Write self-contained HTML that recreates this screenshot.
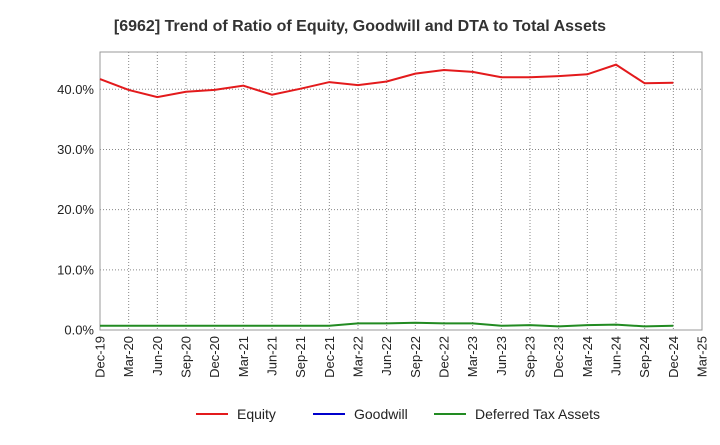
<!DOCTYPE html>
<html><head><meta charset="utf-8"><style>
body{margin:0;background:#fff;font-family:"Liberation Sans",Arial,sans-serif;}
</style></head><body>
<svg id="chart" width="720" height="440" xmlns="http://www.w3.org/2000/svg">
<text x="360" y="31" text-anchor="middle" font-size="16" font-weight="bold" fill="#333">[6962]  Trend of Ratio of Equity, Goodwill and DTA to Total Assets</text>
<g id="grid"></g><g id="axes"></g><g id="series"></g>
<g>
<line x1="196" y1="414" x2="228" y2="414" stroke="#e31a1c" stroke-width="2"/>
<text x="237" y="419" font-size="14" fill="#222">Equity</text>
<line x1="313" y1="414" x2="345" y2="414" stroke="#0000cc" stroke-width="2"/>
<text x="354" y="419" font-size="14" fill="#222">Goodwill</text>
<line x1="434" y1="414" x2="466" y2="414" stroke="#228b22" stroke-width="2"/>
<text x="475" y="419" font-size="14" fill="#222">Deferred Tax Assets</text>
</g>
</svg>
<script>
const categories=["Dec-19","Mar-20","Jun-20","Sep-20","Dec-20","Mar-21","Jun-21","Sep-21","Dec-21","Mar-22","Jun-22","Sep-22","Dec-22","Mar-23","Jun-23","Sep-23","Dec-23","Mar-24","Jun-24","Sep-24","Dec-24","Mar-25"];
const equity=[41.7,39.9,38.7,39.6,39.9,40.6,39.1,40.1,41.2,40.7,41.3,42.6,43.2,42.9,42.0,42.0,42.2,42.5,44.1,41.0,41.1];
const dta=[0.7,0.7,0.7,0.7,0.7,0.7,0.7,0.7,0.7,1.1,1.1,1.2,1.1,1.1,0.7,0.8,0.6,0.8,0.9,0.6,0.7];
const yTicks=[0,10,20,30,40];
const NS="http://www.w3.org/2000/svg";
const L=100,R=702,T=52,B=330,YMAX=46.2;
const x=i=>L+i*(R-L)/(categories.length-1);
const y=v=>B-v*(B-T)/YMAX;
function mk(tag,attrs,parent){const e=document.createElementNS(NS,tag);for(const k in attrs)e.setAttribute(k,attrs[k]);document.getElementById(parent).appendChild(e);return e;}
const frame=mk("rect",{x:L,y:T,width:R-L,height:B-T,fill:"none",stroke:"#999"},"axes");


categories.forEach((c,i)=>{
 const g=mk("line",{x1:x(i),x2:x(i),y1:T,y2:B,stroke:"#888","stroke-dasharray":"1,2"},"grid");
 
 
 const t=mk("text",{x:0,y:0,"font-size":"13",fill:"#222","text-anchor":"end",transform:`translate(${x(i)+4.5},${B+6}) rotate(-90)`},"axes");
 t.textContent=c;
 
 
});
yTicks.forEach(v=>{
 const g=mk("line",{x1:L,x2:R,y1:y(v),y2:y(v),stroke:"#888","stroke-dasharray":"1,2"},"grid");
 
 
 const t=mk("text",{x:L-6,y:y(v)+4.5,"font-size":"13",fill:"#222","text-anchor":"end"},"axes");
 t.textContent=v.toFixed(1)+"%";
 
 
});
function line(data,color,name){
 const p=mk("polyline",{points:data.map((v,i)=>x(i)+","+y(v)).join(" "),fill:"none",stroke:color,"stroke-width":"2"},"series");
 
 
}
line(dta,"#228b22","dta-line");
line(equity,"#e31a1c","equity-line");
</script>
</body></html>
